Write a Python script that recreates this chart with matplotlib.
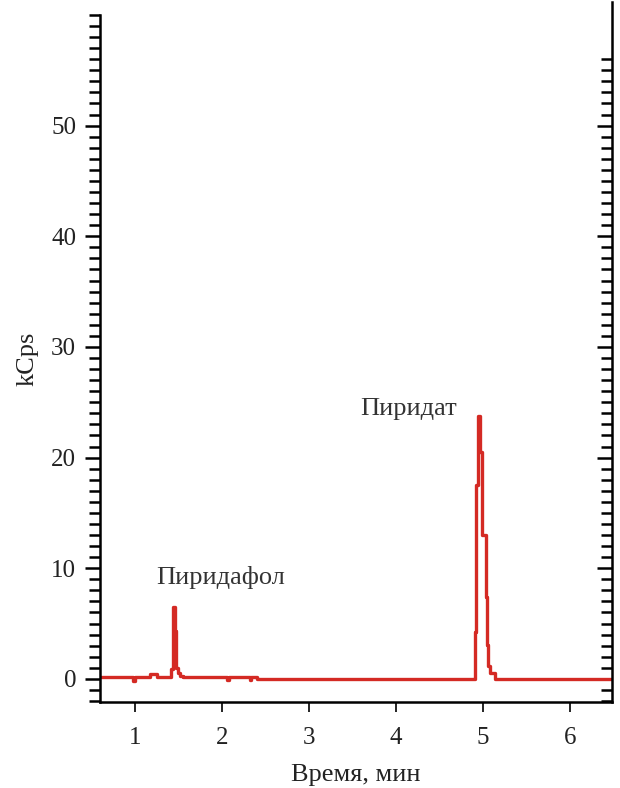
import matplotlib.pyplot as plt
from matplotlib.ticker import MultipleLocator

# хроматограмма (ступенчатый сигнал), мин / kCps
time = [0.60, 0.98, 1.00, 1.02, 1.18, 1.20, 1.26, 1.28, 1.42, 1.44, 1.46, 1.48, 1.50, 1.52, 1.56,
        2.06, 2.08, 2.10, 2.32, 2.34, 2.36, 2.40, 4.90, 4.91, 4.92, 4.94, 4.96, 4.99,
        5.03, 5.04, 5.06, 5.08, 5.14, 6.48]
signal = [0.2, -0.2, 0.2, 0.2, 0.4, 0.4, 0.2, 0.2, 0.9, 6.5, 4.3, 1.0, 0.5, 0.3, 0.2,
          -0.1, 0.2, 0.2, -0.1, 0.2, 0.2, 0.0, 0.0, 4.2, 17.5, 23.8, 20.5, 13.0,
          7.4, 3.1, 1.2, 0.5, 0.0, 0.0]

peak_names = ["Пиридафол", "Пиридат"]
peak_x = [1.99, 4.14]
peak_y = [9.2, 24.4]

plt.rcParams['font.family'] = ['Liberation Serif', 'DejaVu Serif']

fig = plt.figure(figsize=(6.2, 7.88), dpi=100)
ax = fig.add_axes([0.161, 0.109, 0.826, 0.872])

ax.step(time, signal, where='post', color='#d42a24', lw=2.4)

for name, x, y in zip(peak_names, peak_x, peak_y):
    ax.text(x, y, name, fontsize=19, color='#333333', ha='center', va='center')

ax.set_xlim(0.6, 6.48)
ax.set_ylim(-2.1, 60)

ax.spines['top'].set_visible(False)
for s in ['left', 'right', 'bottom']:
    ax.spines[s].set_linewidth(1.8)
ax.spines['right'].set_bounds(-2.1, 61.2)

ax.xaxis.set_major_locator(MultipleLocator(1))
ax.yaxis.set_minor_locator(MultipleLocator(1))
ax.set_yticks(range(0, 51, 10))

ax.tick_params(axis='x', direction='out', length=7, width=1.2, labelsize=18, pad=11,
               labelcolor='#222222')
ax.tick_params(axis='y', which='major', direction='out', length=11, width=1.8,
               labelsize=18, right=True, pad=6, labelcolor='#222222')
ax.tick_params(axis='y', which='minor', direction='out', length=8, width=1.8, right=True)

ax.set_xlabel("Время, мин", fontsize=19, color='#222222', va='center')
ax.xaxis.set_label_coords(0.5, -0.106)
ax.set_ylabel("kCps", fontsize=19, color='#222222', va='center')
ax.yaxis.set_label_coords(-0.141, 0.5)

# правые засечки внутрь, только до 56
fig.canvas.draw()
for t in ax.yaxis.get_major_ticks() + ax.yaxis.get_minor_ticks():
    t.tick2line.set_marker(0)
    if t.get_loc() is not None and t.get_loc() > 56.5:
        t.tick2line.set_visible(False)

fig.savefig("out.png", dpi=100)
